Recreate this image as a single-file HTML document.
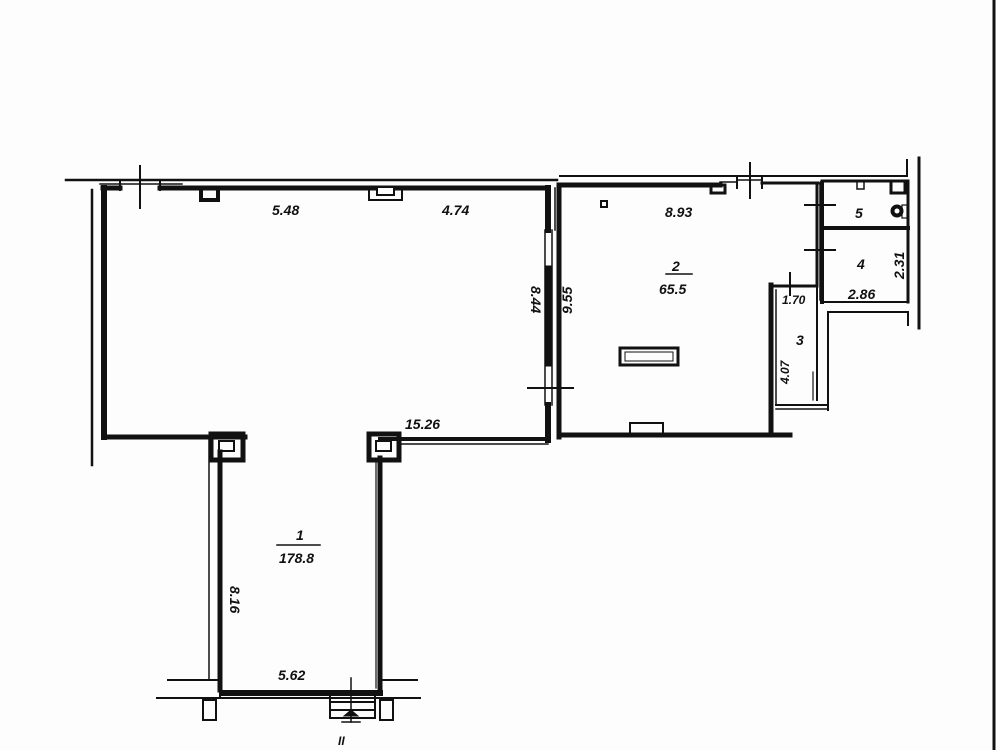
<!DOCTYPE html>
<html><head><meta charset="utf-8"><style>
html,body{margin:0;padding:0;background:#fdfdfd;}
svg{display:block}
text{font-family:"Liberation Sans",sans-serif;font-style:italic;font-weight:bold;font-size:14px;fill:#111}
</style></head><body>
<svg width="1000" height="750" viewBox="0 0 1000 750" xmlns="http://www.w3.org/2000/svg">
<rect width="1000" height="750" fill="#fdfdfd"/>
<line x1="994" y1="0" x2="994" y2="750" stroke="#111" stroke-width="3"/>
<g stroke="#111" fill="none" stroke-linecap="square">
<line x1="66" y1="180" x2="557" y2="180" stroke-width="2.5"/>
<line x1="560" y1="176" x2="907" y2="176" stroke-width="2"/>
<line x1="92" y1="190" x2="92" y2="465" stroke-width="2.5"/>
<line x1="907" y1="160" x2="907" y2="176" stroke-width="2"/>
<line x1="919" y1="158" x2="919" y2="328" stroke-width="3"/>
<line x1="103" y1="188" x2="120" y2="188" stroke-width="5"/>
<line x1="160" y1="188" x2="548" y2="188" stroke-width="5"/>
<line x1="120" y1="181" x2="120" y2="190" stroke-width="2"/>
<line x1="160" y1="181" x2="160" y2="190" stroke-width="2"/>
<line x1="140" y1="166" x2="140" y2="208" stroke-width="2"/>
<line x1="100" y1="184" x2="182" y2="184" stroke-width="1.5"/>
<rect x="201" y="188" width="17" height="12" stroke-width="4"/>
<rect x="369" y="187" width="33" height="13" stroke-width="2"/>
<rect x="377" y="187" width="17" height="8" fill="#fdfdfd" stroke-width="2"/>
<line x1="104" y1="188" x2="104" y2="437" stroke-width="6"/>
<line x1="104" y1="437" x2="245" y2="437" stroke-width="5"/>
<line x1="548" y1="188" x2="548" y2="230" stroke-width="6"/>
<line x1="548" y1="405" x2="548" y2="440" stroke-width="6"/>
<line x1="545" y1="230" x2="545" y2="405" stroke-width="1.5"/>
<line x1="552" y1="230" x2="552" y2="405" stroke-width="1.5"/>
<rect x="546" y="266" width="6" height="100" fill="#111" stroke-width="1"/>
<line x1="528" y1="388" x2="573" y2="388" stroke-width="2"/>
<line x1="559" y1="188" x2="559" y2="437" stroke-width="5"/>
<line x1="555" y1="188" x2="555" y2="230" stroke-width="1.5"/>
<line x1="380" y1="439" x2="548" y2="439" stroke-width="4"/>
<line x1="400" y1="444" x2="548" y2="444" stroke-width="1.5"/>
<rect x="369" y="434" width="30" height="26" stroke-width="5"/>
<rect x="376" y="441" width="15" height="10" stroke-width="2"/>
<rect x="211" y="434" width="32" height="26" stroke-width="5"/>
<rect x="219" y="441" width="15" height="10" stroke-width="2"/>
<line x1="209" y1="440" x2="209" y2="680" stroke-width="1.5"/>
<line x1="220" y1="452" x2="220" y2="690" stroke-width="5"/>
<line x1="380" y1="458" x2="380" y2="690" stroke-width="5"/>
<line x1="376" y1="460" x2="376" y2="688" stroke-width="1.2"/>
<line x1="222" y1="693" x2="380" y2="693" stroke-width="6"/>
<line x1="168" y1="680" x2="218" y2="680" stroke-width="2"/>
<line x1="383" y1="680" x2="417" y2="680" stroke-width="2"/>
<line x1="157" y1="698" x2="420" y2="698" stroke-width="2"/>
<line x1="220" y1="680" x2="220" y2="698" stroke-width="2"/>
<rect x="203" y="700" width="13" height="20" stroke-width="2"/>
<rect x="380" y="700" width="13" height="20" stroke-width="2"/>
<rect x="330" y="694" width="45" height="24" stroke-width="2"/>
<line x1="330" y1="702" x2="375" y2="702" stroke-width="2"/>
<line x1="330" y1="710" x2="375" y2="710" stroke-width="2"/>
<line x1="351" y1="678" x2="351" y2="722" stroke-width="1.5"/>
<path d="M344 716 L351 710 L358 716 Z" fill="#111" stroke-width="1"/>
<line x1="342" y1="722" x2="360" y2="722" stroke-width="1.5"/>
<line x1="559" y1="185" x2="720" y2="185" stroke-width="5"/>
<line x1="720" y1="182" x2="737" y2="182" stroke-width="1.5"/>
<rect x="711" y="185" width="14" height="8" stroke-width="3"/>
<line x1="737" y1="178" x2="737" y2="188" stroke-width="2"/>
<line x1="762" y1="178" x2="762" y2="188" stroke-width="2"/>
<line x1="750" y1="163" x2="750" y2="198" stroke-width="2"/>
<line x1="737" y1="180" x2="762" y2="180" stroke-width="1.5"/>
<line x1="762" y1="183" x2="818" y2="183" stroke-width="3"/>
<line x1="817" y1="183" x2="817" y2="285" stroke-width="3"/>
<line x1="820" y1="183" x2="820" y2="300" stroke-width="1.5"/>
<line x1="805" y1="205" x2="835" y2="205" stroke-width="2"/>
<line x1="805" y1="250" x2="835" y2="250" stroke-width="2"/>
<line x1="790" y1="273" x2="790" y2="295" stroke-width="2"/>
<rect x="601" y="201" width="6" height="6" stroke-width="2"/>
<rect x="620" y="348" width="58" height="17" stroke-width="3"/>
<rect x="625" y="352" width="48" height="9" stroke-width="1"/>
<line x1="559" y1="435" x2="790" y2="435" stroke-width="5"/>
<rect x="630" y="423" width="33" height="11" stroke-width="2"/>
<line x1="771" y1="285" x2="771" y2="435" stroke-width="5"/>
<line x1="771" y1="286" x2="817" y2="286" stroke-width="3"/>
<line x1="776" y1="290" x2="776" y2="405" stroke-width="1.5"/>
<line x1="776" y1="405" x2="826" y2="405" stroke-width="2"/>
<line x1="776" y1="409" x2="828" y2="409" stroke-width="1.5"/>
<line x1="817" y1="285" x2="817" y2="400" stroke-width="2"/>
<line x1="813" y1="372" x2="813" y2="400" stroke-width="1.2"/>
<line x1="822" y1="183" x2="822" y2="302" stroke-width="4"/>
<line x1="822" y1="181" x2="908" y2="181" stroke-width="3"/>
<line x1="822" y1="228" x2="908" y2="228" stroke-width="4"/>
<line x1="822" y1="302" x2="908" y2="302" stroke-width="2"/>
<line x1="908" y1="181" x2="908" y2="302" stroke-width="3"/>
<line x1="828" y1="312" x2="828" y2="410" stroke-width="2"/>
<line x1="828" y1="312" x2="908" y2="312" stroke-width="2"/>
<line x1="908" y1="312" x2="908" y2="325" stroke-width="2"/>
<rect x="857" y="181" width="7" height="8" stroke-width="1.5"/>
<rect x="891" y="181" width="14" height="12" stroke-width="3"/>
<circle cx="897" cy="211" r="6" fill="#111" stroke-width="1"/>
<circle cx="897" cy="211" r="2.5" fill="#fdfdfd" stroke="none"/>
<rect x="902" y="205" width="5" height="13" stroke-width="1.2"/>
<line x1="666" y1="274" x2="692" y2="274" stroke-width="1.5"/>
<line x1="277" y1="545" x2="320" y2="545" stroke-width="1.5"/>
</g>
<text x="272" y="215">5.48</text>
<text x="442" y="215">4.74</text>
<text x="665" y="217">8.93</text>
<text x="672" y="271">2</text>
<text x="659" y="294">65.5</text>
<text x="855" y="218">5</text>
<text x="857" y="269">4</text>
<text x="848" y="299">2.86</text>
<text x="782" y="304" style="font-size:12px">1.70</text>
<text x="796" y="345">3</text>
<text x="405" y="429">15.26</text>
<text x="296" y="540">1</text>
<text x="279" y="563">178.8</text>
<text x="278" y="680">5.62</text>
<text x="338" y="745" style="font-size:12px">II</text>
<text transform="translate(531,300) rotate(90)" x="-14" y="0">8.44</text>
<text transform="translate(572,300) rotate(-90)" x="-14" y="0">9.55</text>
<text transform="translate(789,370) rotate(-90)" x="-14" y="0" style="font-size:12px">4.07</text>
<text transform="translate(904,265) rotate(-90)" x="-14" y="0">2.31</text>
<text transform="translate(230,598) rotate(90)" x="-12" y="0">8.16</text>
</svg>
</body></html>
